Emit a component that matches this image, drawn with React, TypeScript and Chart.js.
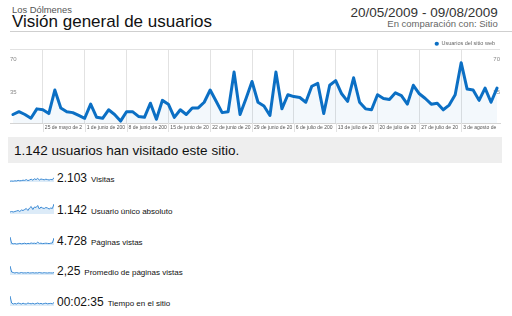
import { useEffect, useRef } from 'react';
import { Chart, registerables } from 'chart.js';

Chart.register(...registerables);
Chart.defaults.font.family = '"Liberation Sans", Arial, sans-serif';

// ---- Data ----
const usuarios = [
  9, 12, 9, 5, 15, 14, 10, 35, 16, 12,
  11, 8, 5, 20, 6, 5, 14, 9, 2, 12,
  12, 7, 6, 21, 4, 24, 20, 6, 14, 9,
  16, 16, 22, 35, 23, 11, 12, 54, 9, 26,
  44, 22, 18, 8, 54, 15, 30, 28, 27, 22,
  39, 42, 10, 40, 45, 31, 23, 48, 22, 15,
  14, 30, 26, 25, 32, 29, 20, 40, 31, 26,
  20, 21, 14, 19, 30, 64, 36, 35, 24, 37,
  22, 37,
];

const tickDates = ['25/05', '01/06', '08/06', '15/06', '22/06', '29/06', '06/07', '13/07', '20/07', '27/07', '03/08'];
const tickLabels = [
  '25 de mayo de 2',
  '1 de junio de 200',
  '8 de junio de 200',
  '15 de junio de 20',
  '22 de junio de 20',
  '29 de junio de 20',
  '6 de julio de 200',
  '13 de julio de 20',
  '20 de julio de 20',
  '27 de julio de 20',
  '3 de agosto de',
];
const yTickValues = [35, 70];
const yTop = 78.5;

const visitasSerie = [4, 5, 4, 6, 5, 8, 6, 7, 9, 8, 12, 7, 10, 14, 9, 16, 12, 18, 10, 15, 13, 11, 14, 12, 10, 13, 11, 22];
const unicosSerie = [4, 5, 4, 5, 6, 7, 5, 8, 7, 9, 11, 7, 12, 15, 9, 14, 13, 17, 10, 14, 12, 11, 13, 12, 10, 12, 11, 20];
const paginasSerie = [40, 8, 6, 7, 5, 6, 8, 6, 7, 9, 6, 8, 7, 10, 8, 9, 7, 14, 8, 9, 7, 8, 9, 8, 7, 9, 10, 35];
const promedioSerie = [9, 3, 2.5, 2, 2.5, 2, 2, 2.5, 2, 2.2, 2, 2.4, 2, 2.1, 2.3, 2, 2.2, 2, 2.5, 2.1, 2, 2.3, 2.1, 2, 2.2, 2.1, 2, 2.4];
const tiempoSerie = [10, 3, 2, 2.5, 2, 3, 2.5, 2, 2.8, 2.2, 2, 3, 2.5, 2.2, 2.7, 2, 2.4, 3, 2.2, 2.6, 2, 2.5, 2.8, 2.2, 2.4, 2.6, 2.2, 3.5];

const metricValues = ['2.103', '1.142', '4.728', '2,25', '00:02:35'];
const metricLabels = ['Visitas', 'Usuario único absoluto', 'Páginas vistas', 'Promedio de páginas vistas', 'Tiempo en el sitio'];
const metricSeries = [visitasSerie, unicosSerie, paginasSerie, promedioSerie, tiempoSerie];

// categories: one per day 20/05/2009 .. 09/08/2009
const pad = (n: number) => (n < 10 ? '0' + n : '' + n);
const categorias: string[] = [];
for (let i = 0; i < usuarios.length; i++) {
  const d = new Date(2009, 4, 20 + i);
  categorias.push(pad(d.getDate()) + '/' + pad(d.getMonth() + 1));
}

const FONT = '"Liberation Sans", Arial, sans-serif';
const LINE = '#0b6fc4';
const GRID = '#e2e2e2';

const tickExtension = {
  id: 'tickExtension',
  afterDraw(chart: any) {
    const s = chart.scales.x;
    const ctx = chart.ctx;
    ctx.save();
    ctx.strokeStyle = GRID;
    ctx.lineWidth = 1;
    ctx.beginPath();
    s.ticks.forEach((_t: any, i: number) => {
      const x = Math.round(s.getPixelForTick(i)) + 0.5;
      ctx.moveTo(x, s.top);
      ctx.lineTo(x, s.top + 9);
    });
    ctx.stroke();
    ctx.restore();
  },
};

function MainChart() {
  const ref = useRef<HTMLCanvasElement | null>(null);
  useEffect(() => {
    if (!ref.current) return;
    const yAfter = (axis: any) => {
      axis.ticks = [0, ...yTickValues, yTop].map((v) => ({ value: v }));
    };
    const chart = new Chart(ref.current, {
      type: 'line',
      data: {
        labels: categorias,
        datasets: [
          {
            label: 'Usuarios del sitio web',
            data: usuarios,
            borderColor: LINE,
            backgroundColor: LINE,
            borderWidth: 3,
            pointRadius: 0,
            tension: 0,
            borderJoinStyle: 'round',
            borderCapStyle: 'round',
            fill: { target: 'origin', above: 'rgba(11,111,196,0.05)' },
          } as any,
        ],
      },
      plugins: [tickExtension],
      options: {
        animation: false,
        responsive: false,
        maintainAspectRatio: false,
        layout: { padding: { left: 10, right: 12, top: 0, bottom: 0 } },
        plugins: {
          legend: {
            position: 'top',
            align: 'end',
            maxHeight: 13,
            labels: {
              usePointStyle: true,
              pointStyle: 'circle',
              boxWidth: 4,
              boxHeight: 3,
              padding: 5,
              color: '#666',
              font: { size: 5.5 },
              generateLabels: (c: any) =>
                Chart.defaults.plugins.legend.labels.generateLabels(c).map((l: any) => ({ ...l, lineWidth: 0 })),
            },
          } as any,
          tooltip: { enabled: false },
        },
        scales: {
          x: {
            offset: true,
            afterBuildTicks: (axis: any) => {
              axis.ticks = axis.ticks.filter((t: any) => tickDates.indexOf(categorias[t.value]) >= 0);
            },
            ticks: {
              autoSkip: false,
              maxRotation: 0,
              minRotation: 0,
              align: 'start',
              labelOffset: 2,
              padding: 2,
              color: '#555',
              font: { size: 5 },
              callback: (value: any) => {
                const k = tickDates.indexOf(categorias[value as number]);
                return k >= 0 ? tickLabels[k] : '';
              },
            },
            grid: { offset: false, color: GRID, drawTicks: false },
            border: { color: '#d4d4d4' },
          },
          y: {
            min: 0,
            max: yTop,
            afterBuildTicks: yAfter,
            ticks: {
              mirror: true,
              padding: 0,
              labelOffset: 2,
              color: '#888',
              font: { size: 6 },
              callback: (v: any) => (yTickValues.indexOf(v) >= 0 ? String(v) : ''),
            },
            grid: {
              drawTicks: false,
              color: (ctx: any) => (ctx.tick && ctx.tick.value === yTop ? GRID : 'rgba(0,0,0,0)'),
            },
            border: { display: false },
          },
          y2: {
            position: 'right',
            min: 0,
            max: yTop,
            afterBuildTicks: yAfter,
            ticks: {
              mirror: true,
              padding: 0,
              labelOffset: 2,
              color: '#888',
              font: { size: 6 },
              callback: (v: any) => (yTickValues.indexOf(v) >= 0 ? String(v) : ''),
            },
            grid: { display: false, drawTicks: false },
            border: { display: false },
          },
        },
      } as any,
    });
    return () => chart.destroy();
  }, []);
  return (
    <canvas
      ref={ref}
      width={512}
      height={97}
      style={{ position: 'absolute', left: 0, top: 36, width: 512, height: 97 }}
    />
  );
}

function Sparkline({ data, top }: { data: number[]; top: number }) {
  const ref = useRef<HTMLCanvasElement | null>(null);
  useEffect(() => {
    if (!ref.current) return;
    const chart = new Chart(ref.current, {
      type: 'line',
      data: {
        labels: data.map((_, i) => String(i)),
        datasets: [
          {
            data,
            borderColor: '#3b8ad4',
            borderWidth: 1,
            pointRadius: 0,
            tension: 0,
            fill: 'origin',
            backgroundColor: '#dcebf8',
          },
        ],
      },
      options: {
        animation: false,
        responsive: false,
        maintainAspectRatio: false,
        layout: { padding: { top: 1, bottom: 0, left: 0, right: 0 } },
        plugins: { legend: { display: false }, tooltip: { enabled: false } },
        scales: {
          x: { display: false },
          y: { display: false, min: 0 },
        },
      },
    });
    return () => chart.destroy();
  }, [data]);
  return (
    <canvas
      ref={ref}
      width={44}
      height={11}
      style={{ position: 'absolute', left: 10, top, width: 44, height: 11 }}
    />
  );
}

const rowBaselines = [181.5, 213.5, 244.5, 275, 305.5];

export default function App() {
  return (
    <div
      style={{
        position: 'absolute',
        left: 0,
        top: 0,
        width: 512,
        height: 316,
        overflow: 'hidden',
        background: '#fff',
        fontFamily: FONT,
      }}
    >
      <div style={{ position: 'absolute', left: 12, top: 5.3, fontSize: 9.4, lineHeight: '9.4px', color: '#555', whiteSpace: 'nowrap' }}>
        Los Dólmenes
      </div>
      <div style={{ position: 'absolute', left: 12, top: 13.3, fontSize: 17, lineHeight: '17px', color: '#111', whiteSpace: 'nowrap' }}>
        Visión general de usuarios
      </div>
      <div style={{ position: 'absolute', right: 14.3, top: 5.9, fontSize: 13.5, lineHeight: '13.5px', color: '#333', whiteSpace: 'nowrap' }}>
        20/05/2009 - 09/08/2009
      </div>
      <div style={{ position: 'absolute', right: 14.3, top: 19, fontSize: 9.5, lineHeight: '9.5px', color: '#666', whiteSpace: 'nowrap' }}>
        En comparación con: Sitio
      </div>
      <div style={{ position: 'absolute', left: 10, top: 31, width: 502, height: 1, background: '#cfcfcf' }} />

      <MainChart />

      <div style={{ position: 'absolute', left: 8, top: 137, width: 494, height: 26, background: '#eeeeee' }} />
      <div style={{ position: 'absolute', left: 14, top: 144, fontSize: 13.5, lineHeight: '13.5px', color: '#111', whiteSpace: 'nowrap' }}>
        1.142 usuarios han visitado este sitio.
      </div>

      {metricValues.map((v, i) => (
        <div key={i}>
          <Sparkline data={metricSeries[i]} top={rowBaselines[i] - 11} />
          <div
            style={{
              position: 'absolute',
              left: 57,
              top: rowBaselines[i] - 11,
              height: 14,
              display: 'flex',
              alignItems: 'baseline',
              whiteSpace: 'nowrap',
            }}
          >
            <span style={{ fontSize: 12, lineHeight: '14px', color: '#111' }}>{v}</span>
            <span style={{ fontSize: 8, lineHeight: '14px', color: '#111', marginLeft: 4 }}>{metricLabels[i]}</span>
          </div>
        </div>
      ))}
    </div>
  );
}
